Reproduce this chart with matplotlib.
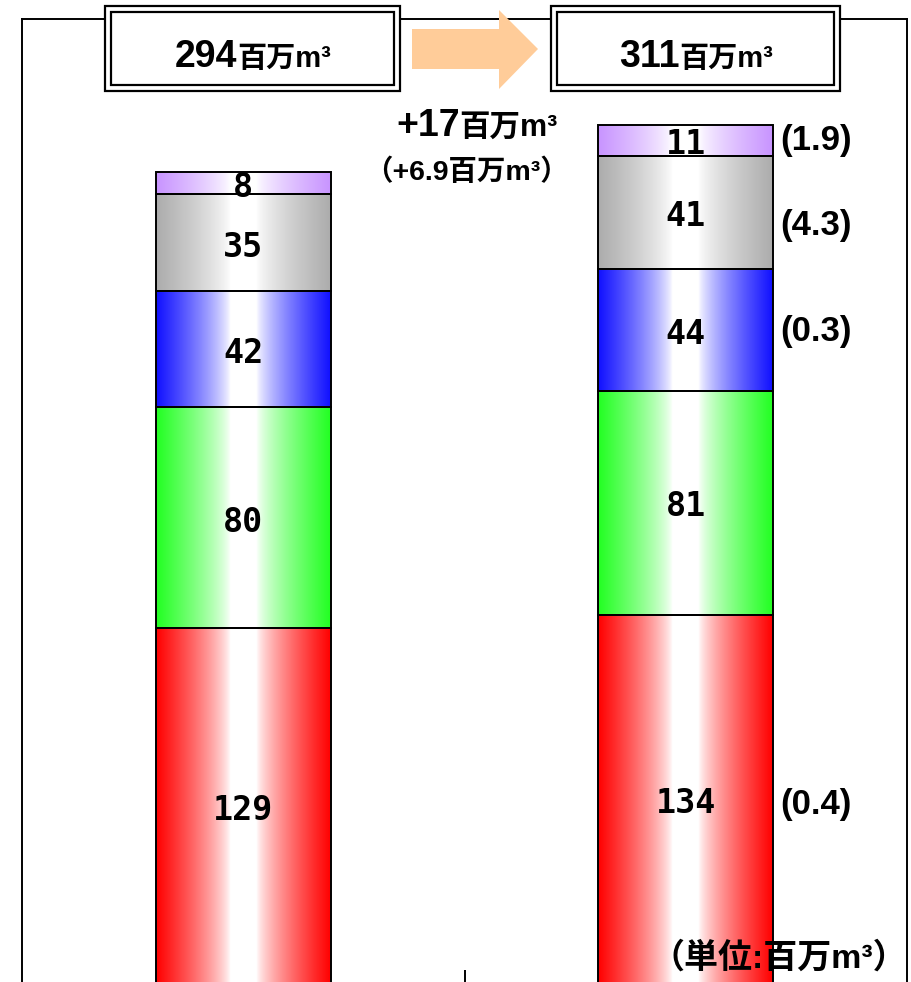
import numpy as np
import matplotlib
matplotlib.use("Agg")
import matplotlib.pyplot as plt
from matplotlib.colors import to_rgb
from matplotlib.patches import Rectangle, Polygon

# 用途別の内訳（百万m3）: 下から順に積み上げ
periods = ["前", "後"]
red_vals = [129, 134]
green_vals = [80, 81]
blue_vals = [42, 44]
gray_vals = [35, 41]
purple_vals = [8, 11]
# 右側のかっこ内の増分 (None は表示なし)
increments = [0.4, None, 0.3, 4.3, 1.9]

series = [red_vals, green_vals, blue_vals, gray_vals, purple_vals]
colors = ["#ff0000", "#22ff22", "#1010ff", "#acacac", "#c894ff"]
inc_offsets = [5, 0, 2, 13, 0]  # 右ラベルを下へずらす量 (px)

totals = np.sum(series, axis=0)
diff = totals[1] - totals[0]
inc_sum = sum(v for v in increments if v is not None)

FAM = ["Liberation Sans", "Noto Sans CJK JP"]
W, H = 912, 982
PX_PER_UNIT = 2.764


def gradient(color, n=256):
    # 両端が色、中央が白の横グラデーション
    u = np.linspace(-1, 1, n)
    t = np.clip((np.abs(u) - 0.15) / 0.85, 0, 1) ** 0.75
    rgb = np.array(to_rgb(color))
    img = 1 - t[:, None] * (1 - rgb[None, :])
    return img[None, :, :]


def put_pieces(ax, xc, y, pieces, renderer):
    # 大きさの違う文字列を横に並べて中央揃え
    texts = [ax.text(0, y, s, fontsize=fs, fontweight="bold", family=FAM,
                     ha="left", va="baseline") for s, fs in pieces]
    widths = [t.get_window_extent(renderer).width for t in texts]
    x = xc - sum(widths) / 2
    for t, w in zip(texts, widths):
        t.set_x(x)
        x += w


fig = plt.figure(figsize=(W / 100, H / 100), dpi=100)
ax = fig.add_axes([22 / W, (H - 985) / H, 885 / W, 966 / H])
xlim = (-0.5, 1.5)
ylim = (0, 966 / PX_PER_UNIT)

x = np.arange(len(periods))
bottom = np.zeros(len(periods))
for vals, col, inc, off in zip(series, colors, increments, inc_offsets):
    vals = np.array(vals)
    bars = ax.bar(x, vals, width=0.395, bottom=bottom, facecolor="none",
                  edgecolor="black", linewidth=1.4, zorder=3)
    for b in bars:
        x0, y0 = b.get_x(), b.get_y()
        ax.imshow(gradient(col), extent=(x0, x0 + b.get_width(), y0, y0 + b.get_height()),
                  aspect="auto", interpolation="bilinear", zorder=2)
    for xi, v, b0 in zip(x, vals, bottom):
        ax.annotate(f"{v}", xy=(xi, b0 + v / 2), xytext=(0, -3),
                    textcoords="offset points", ha="center", va="center",
                    family="DejaVu Sans Mono", fontweight="bold", fontsize=24,
                    zorder=4)
    if inc is not None:
        ax.annotate(f"({inc})", xy=(x[1] + 0.395 / 2, bottom[1] + vals[1] / 2),
                    xytext=(5, -off * 0.72), textcoords="offset points",
                    ha="left", va="center", family=FAM, fontweight="bold",
                    fontsize=25)
    bottom = bottom + vals

ax.set_xlim(*xlim)
ax.set_ylim(*ylim)
ax.set_yticks([])
ax.set_xticks([])
ax.set_xticks([0.5], minor=True)
ax.tick_params(axis="x", which="minor", direction="in", length=11, width=1.4)
for side in ["top", "left", "right", "bottom"]:
    ax.spines[side].set_linewidth(1.4)

# 上部の見出しと矢印
ov = fig.add_axes([0, 0, 1, 1])
ov.set_xlim(0, W)
ov.set_ylim(H, 0)
ov.axis("off")

for bx0, bx1 in [(105, 400), (551, 840)]:
    ov.add_patch(Rectangle((bx0, 6), bx1 - bx0, 85, facecolor="white",
                           edgecolor="black", lw=1.6))
    ov.add_patch(Rectangle((bx0 + 6, 12), bx1 - bx0 - 12, 73, facecolor="none",
                           edgecolor="black", lw=1.6))

ov.add_patch(Polygon([(412, 29), (499, 29), (499, 10), (538, 49), (499, 89),
                      (499, 69), (412, 69)], closed=True, facecolor="#ffcc99",
                     edgecolor="none"))

r = fig.canvas.get_renderer()
put_pieces(ov, 253, 67, [(f"{totals[0]}", 27), ("百万m³", 21)], r)
put_pieces(ov, 696, 67, [(f"{totals[1]}", 27), ("百万m³", 21)], r)
put_pieces(ov, 477, 136, [(f"+{diff}", 27), ("百万m³", 22)], r)
put_pieces(ov, 467, 180, [(f"（+{inc_sum:.1f}百万m³）", 20.5)], r)

ov.text(907, 968, "（単位:百万m³）", ha="right", va="baseline", family=FAM,
        fontweight="bold", fontsize=24.5)

fig.savefig("out.png", dpi=100)
